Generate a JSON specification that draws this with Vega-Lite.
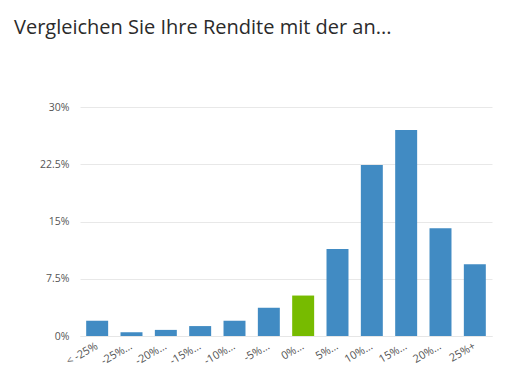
{
  "$schema": "https://vega.github.io/schema/vega-lite/v6.json",
  "width": 412,
  "height": 229,
  "autosize": "none",
  "padding": {"left": 80, "top": 107, "right": 26, "bottom": 50},
  "background": "white",
  "title": {
    "text": "Vergleichen Sie Ihre Rendite mit der an...",
    "anchor": "start",
    "frame": "group",
    "dx": -66,
    "offset": 64,
    "font": "Open Sans",
    "fontSize": 20,
    "fontWeight": "normal",
    "color": "#2b2b2b"
  },
  "data": {
    "values": [
      {"cat": "< -25%", "pct": 2.0, "own": false},
      {"cat": "-25%…", "pct": 0.5, "own": false},
      {"cat": "-20%…", "pct": 0.8, "own": false},
      {"cat": "-15%…", "pct": 1.3, "own": false},
      {"cat": "-10%…", "pct": 2.0, "own": false},
      {"cat": "-5%…", "pct": 3.7, "own": false},
      {"cat": "0%…", "pct": 5.3, "own": true},
      {"cat": "5%…", "pct": 11.4, "own": false},
      {"cat": "10%…", "pct": 22.4, "own": false},
      {"cat": "15%…", "pct": 27.0, "own": false},
      {"cat": "20%…", "pct": 14.1, "own": false},
      {"cat": "25%+", "pct": 9.4, "own": false}
    ]
  },
  "mark": {"type": "bar"},
  "encoding": {
    "x": {
      "field": "cat",
      "type": "nominal",
      "sort": null,
      "title": null,
      "scale": {"paddingInner": 0.36, "paddingOuter": 0.18},
      "axis": {
        "labelAngle": -30,
        "labelAlign": "right",
        "labelBaseline": "middle",
        "labelFont": "Open Sans",
        "labelFontSize": 11,
        "labelColor": "#555555",
        "labelPadding": 9,
        "ticks": false,
        "domainColor": "#e6e6e6",
        "labelLimit": 80
      }
    },
    "y": {
      "field": "pct",
      "type": "quantitative",
      "title": null,
      "scale": {"domain": [0, 30], "nice": false},
      "axis": {
        "values": [0, 7.5, 15, 22.5, 30],
        "labelExpr": "datum.value + '%'",
        "labelFont": "Open Sans",
        "labelFontSize": 10.5,
        "labelColor": "#555555",
        "labelPadding": 11,
        "ticks": false,
        "domain": false,
        "gridColor": "#e8e8e8"
      }
    },
    "color": {
      "field": "own",
      "type": "nominal",
      "scale": {"domain": [false, true], "range": ["#418bc3", "#77bb00"]},
      "legend": null
    }
  },
  "config": {"view": {"stroke": null}}
}
